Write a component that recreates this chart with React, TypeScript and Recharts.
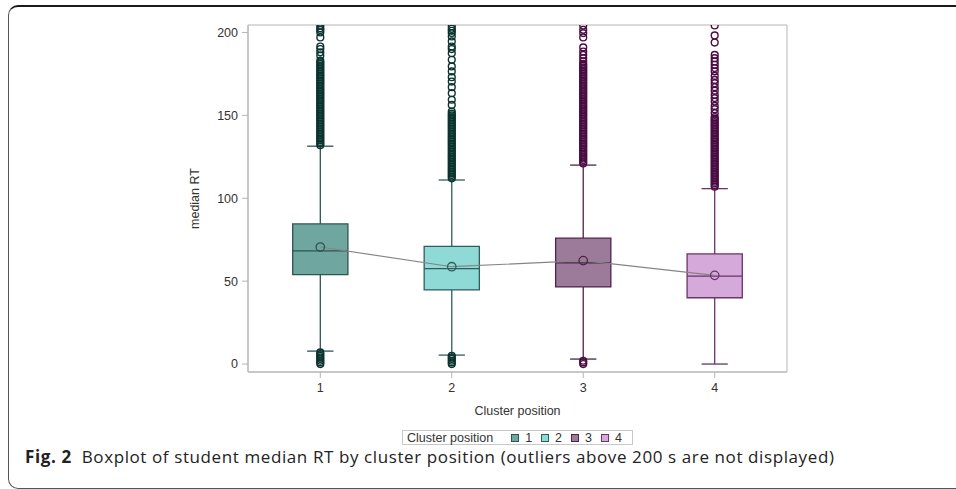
import React from "react";
import {
  ComposedChart,
  XAxis,
  YAxis,
  Line,
  Scatter,
  ReferenceArea,
  ReferenceLine,
} from "recharts";

// box statistics per cluster position
const clusters = [1, 2, 3, 4];
const q1 = [53.9, 44.7, 46.5, 40.0];
const medians = [68.2, 57.5, 61.0, 53.0];
const q3 = [84.5, 71.0, 75.9, 66.4];
const whiskerLow = [7.8, 5.4, 3.0, 0];
const whiskerHigh = [131.4, 111.0, 120.0, 105.8];
const means = [70.6, 58.7, 62.4, 53.5];

// outliers (values above 200 s are cut off in the original)
const outliers1 = [
  0, 1, 2, 3, 4, 5, 6, 7,
  132, 133, 134, 135, 136, 137, 138, 139, 140, 141, 142, 143, 144, 145, 146, 147,
  148, 149, 150, 151, 152, 153, 154, 155, 156, 157, 158, 159, 160, 161, 162, 163,
  164, 165, 166, 167, 168, 169, 170, 171, 172, 173, 174, 175, 176, 177, 178, 179,
  180, 181, 182, 183, 186, 188, 190, 191.5, 197, 200, 201.5, 202.5, 204,
];
const outliers2 = [
  0, 1, 2, 3, 4, 5,
  112, 113, 114, 115, 116, 117, 118, 119, 120, 121, 122, 123, 124, 125, 126, 127,
  128, 129, 130, 131, 132, 133, 134, 135, 136, 137, 138, 139, 140, 141, 142, 143,
  144, 145, 146, 147, 148, 149, 150, 151, 152.3, 156.3, 159.4, 163.4, 167, 170.4,
  173, 176.5, 179.5, 183.5, 187.5, 190, 191.5, 194.6, 197.6, 199.6, 201, 202.2, 203.6,
];
const outliers3 = [
  0, 1, 2,
  121, 122, 123, 124, 125, 126, 127, 128, 129, 130, 131, 132, 133, 134, 135, 136,
  137, 138, 139, 140, 141, 142, 143, 144, 145, 146, 147, 148, 149, 150, 151, 152,
  153, 154, 155, 156, 157, 158, 159, 160, 161, 162, 163, 164, 165, 166, 167, 168,
  169, 170, 171, 172, 173, 174, 175, 176, 177, 178, 179, 180, 181, 182.5, 184.5,
  186.5, 188.5, 191, 197, 199.6, 201.6, 204.2,
];
const outliers4 = [
  107, 108, 109, 110, 111, 112, 113, 114, 115, 116, 117, 118, 119, 120, 121, 122,
  123, 124, 125, 126, 127, 128, 129, 130, 131, 132, 133, 134, 135, 136, 137, 138,
  139, 140, 141, 142, 143, 144, 145, 146, 147, 148, 149, 151.3, 153.7, 155.7, 158.3,
  160.4, 162.4, 164.9, 167, 169.4, 171.4, 173.8, 176.5, 178.5, 180.5, 182.5, 184.5,
  186.5, 193.9, 198.2, 204.2,
];
const outlierGroups = [outliers1, outliers2, outliers3, outliers4];

const yTicks = [0, 50, 100, 150, 200];

const boxFill = ["#6fa6a0", "#8fdad6", "#9c7b9a", "#d5a9da"];
const boxStroke = ["#2c5450", "#2d5e5b", "#4f2249", "#6a3466"];
const dotColor = ["#0b3330", "#0b3330", "#4b0c44", "#4b0c44"];

const FONT = "'Liberation Sans', Arial, sans-serif";
const BOX_HALF = 0.21;
const CAP_HALF = 0.1;

const meanData = clusters.map((c, i) => ({ x: c, mean: means[i], i }));

export default function App() {
  return (
    <div
      style={{
        position: "absolute",
        left: 0,
        top: 0,
        width: 956,
        height: 489,
        overflow: "hidden",
        background: "#fff",
      }}
    >
      <div
        style={{
          position: "absolute",
          left: 8,
          top: 5,
          width: 948,
          height: 484,
          boxSizing: "border-box",
          borderTop: "2px solid #1a1a1a",
          borderLeft: "1.5px solid #555",
          borderBottom: "1.5px solid #555",
          borderRadius: "10px 0 0 10px",
        }}
      />
      <div style={{ position: "absolute", left: 0, top: 0 }}>
        <ComposedChart
          width={956}
          height={430}
          margin={{ top: 25, right: 169, left: 142, bottom: 10 }}
          style={{ fontFamily: FONT }}
        >
          <XAxis
            type="number"
            dataKey="x"
            domain={[0.45, 4.55]}
            ticks={clusters}
            allowDataOverflow
            height={48}
            tickSize={6}
            tickMargin={5}
            stroke="#b5b5b5"
            tick={{ fill: "#333", fontSize: 12.5 }}
            label={{
              value: "Cluster position",
              position: "insideBottom",
              offset: 5,
              fill: "#333",
              fontSize: 12.5,
            }}
          />
          <YAxis
            type="number"
            domain={[-4.8, 204.5]}
            ticks={yTicks}
            allowDataOverflow
            width={106}
            tickSize={6}
            tickMargin={4}
            stroke="#b5b5b5"
            tick={{ fill: "#333", fontSize: 12.5 }}
            label={{
              value: "median RT",
              angle: -90,
              position: "center",
              fill: "#333",
              fontSize: 12.5,
            }}
          />
          <ReferenceArea
            x1={0.45}
            x2={4.55}
            y1={-4.8}
            y2={204.5}
            fill="none"
            stroke="#b5b5b5"
            strokeWidth={1}
          />
          {clusters.map((c, i) => (
            <ReferenceLine
              key={`wl${c}`}
              segment={[
                { x: c, y: whiskerLow[i] },
                { x: c, y: q1[i] },
              ]}
              stroke={boxStroke[i]}
              strokeWidth={1.3}
            />
          ))}
          {clusters.map((c, i) => (
            <ReferenceLine
              key={`wh${c}`}
              segment={[
                { x: c, y: q3[i] },
                { x: c, y: whiskerHigh[i] },
              ]}
              stroke={boxStroke[i]}
              strokeWidth={1.3}
            />
          ))}
          {clusters.map((c, i) => (
            <ReferenceLine
              key={`cl${c}`}
              segment={[
                { x: c - CAP_HALF, y: whiskerLow[i] },
                { x: c + CAP_HALF, y: whiskerLow[i] },
              ]}
              stroke={boxStroke[i]}
              strokeWidth={1.3}
            />
          ))}
          {clusters.map((c, i) => (
            <ReferenceLine
              key={`ch${c}`}
              segment={[
                { x: c - CAP_HALF, y: whiskerHigh[i] },
                { x: c + CAP_HALF, y: whiskerHigh[i] },
              ]}
              stroke={boxStroke[i]}
              strokeWidth={1.3}
            />
          ))}
          {clusters.map((c, i) => (
            <ReferenceArea
              key={`box${c}`}
              x1={c - BOX_HALF}
              x2={c + BOX_HALF}
              y1={q1[i]}
              y2={q3[i]}
              fill={boxFill[i]}
              fillOpacity={1}
              stroke={boxStroke[i]}
              strokeWidth={1.3}
            />
          ))}
          {clusters.map((c, i) => (
            <ReferenceLine
              key={`med${c}`}
              segment={[
                { x: c - BOX_HALF, y: medians[i] },
                { x: c + BOX_HALF, y: medians[i] },
              ]}
              stroke={boxStroke[i]}
              strokeWidth={1.3}
            />
          ))}
          {outlierGroups.map((vals, i) => (
            <Scatter
              key={`out${i}`}
              data={vals.map((v) => ({ x: clusters[i], y: v }))}
              dataKey="y"
              isAnimationActive={false}
              shape={(p: any) => (
                <circle
                  cx={p.cx}
                  cy={p.cy}
                  r={3.4}
                  fill="none"
                  stroke={dotColor[i]}
                  strokeWidth={1.4}
                />
              )}
            />
          ))}
          <Line
            data={meanData}
            dataKey="mean"
            stroke="#858585"
            strokeWidth={1.2}
            isAnimationActive={false}
            dot={(p: any) => (
              <circle
                key={`m${p.index}`}
                cx={p.cx}
                cy={p.cy}
                r={4.2}
                fill="none"
                stroke={boxStroke[p.payload.i]}
                strokeWidth={1.3}
              />
            )}
          />
        </ComposedChart>
      </div>
      <div
        style={{
          position: "absolute",
          left: 402,
          top: 430,
          width: 231,
          height: 15,
          boxSizing: "border-box",
          border: "1px solid #c8c8c8",
          fontFamily: FONT,
          fontSize: 12.5,
          color: "#333",
          display: "flex",
          alignItems: "center",
          whiteSpace: "nowrap",
        }}
      >
        <span style={{ marginLeft: 4, marginRight: 18 }}>Cluster position</span>
        {clusters.map((c, i) => (
          <span
            key={c}
            style={{ display: "flex", alignItems: "center", marginRight: 9 }}
          >
            <span
              style={{
                display: "inline-block",
                width: 8,
                height: 8,
                boxSizing: "border-box",
                background: boxFill[i],
                border: `1px solid ${boxStroke[i]}`,
                marginRight: 6,
              }}
            />
            {c}
          </span>
        ))}
      </div>
      <div
        style={{
          position: "absolute",
          left: 25,
          top: 446,
          fontFamily: "'Open Sans', 'Noto Sans', sans-serif",
          fontSize: 17,
          letterSpacing: 0.6,
          color: "#222",
          whiteSpace: "nowrap",
          lineHeight: "22px",
        }}
      >
        <b>Fig. 2</b>
        <span style={{ marginLeft: 10 }}>
          Boxplot of student median RT by cluster position (outliers above 200 s
          are not displayed)
        </span>
      </div>
    </div>
  );
}
